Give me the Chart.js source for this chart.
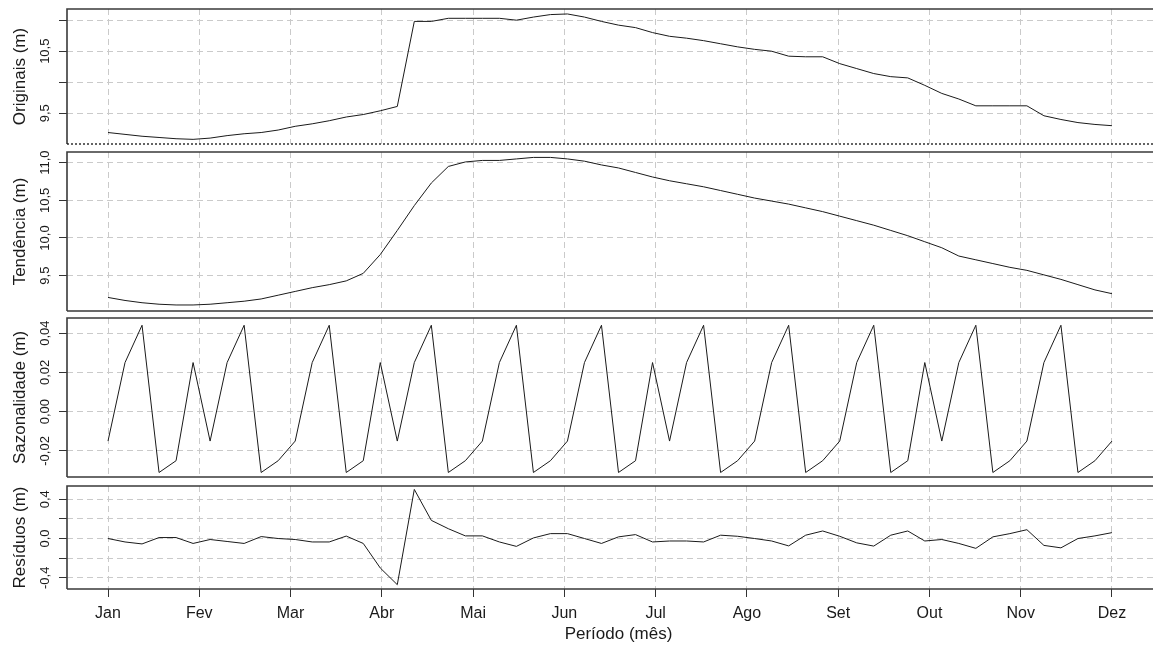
<!DOCTYPE html>
<html>
<head>
<meta charset="utf-8">
<script src="https://cdn.jsdelivr.net/npm/chart.js@4.4.0/dist/chart.umd.min.js"></script>
<style>
html, body { margin: 0; padding: 0; background: #fff; overflow: hidden; width: 1153px; height: 645px; }
canvas { position: absolute; left: 0; }
</style>
</head>
<body>
<canvas id="c1" width="1170" height="143" style="top:5px"></canvas>
<canvas id="c2" width="1170" height="167" style="top:148px"></canvas>
<canvas id="c3" width="1170" height="167" style="top:314px"></canvas>
<canvas id="c4" width="1170" height="163" style="top:482px"></canvas>
<script>
// meses do eixo x (os pontos vão do índice 0 = Jan até 59 = Dez)
const months = ['Jan', 'Fev', 'Mar', 'Abr', 'Mai', 'Jun', 'Jul', 'Ago', 'Set', 'Out', 'Nov', 'Dez'];
const lastIndex = 59;

const originais = [9.19, 9.16, 9.13, 9.11, 9.09, 9.08, 9.10, 9.14, 9.17, 9.19, 9.23, 9.29, 9.33, 9.38, 9.44,
  9.48, 9.54, 9.61, 10.98, 10.98, 11.03, 11.03, 11.03, 11.03, 11.00, 11.05, 11.09, 11.10, 11.05, 10.98,
  10.92, 10.88, 10.80, 10.74, 10.71, 10.67, 10.62, 10.57, 10.53, 10.50, 10.42, 10.41, 10.41, 10.30, 10.22,
  10.14, 10.09, 10.07, 9.95, 9.82, 9.73, 9.62, 9.62, 9.62, 9.62, 9.46, 9.40, 9.35, 9.32, 9.30];

const tendencia = [9.21, 9.17, 9.14, 9.12, 9.11, 9.11, 9.12, 9.14, 9.16, 9.19, 9.24, 9.29, 9.34, 9.38, 9.43,
  9.53, 9.78, 10.10, 10.43, 10.73, 10.95, 11.01, 11.03, 11.03, 11.05, 11.07, 11.07, 11.05, 11.02, 10.97,
  10.93, 10.87, 10.81, 10.76, 10.72, 10.68, 10.63, 10.58, 10.53, 10.49, 10.45, 10.40, 10.35, 10.29, 10.23,
  10.17, 10.10, 10.03, 9.95, 9.87, 9.76, 9.71, 9.66, 9.61, 9.57, 9.51, 9.45, 9.38, 9.31, 9.26];

const sazonalidade = [-0.015, 0.025, 0.044, -0.031, -0.025, 0.025, -0.015, 0.025, 0.044, -0.031, -0.025,
  -0.015, 0.025, 0.044, -0.031, -0.025, 0.025, -0.015, 0.025, 0.044, -0.031, -0.025, -0.015, 0.025, 0.044,
  -0.031, -0.025, -0.015, 0.025, 0.044, -0.031, -0.025, 0.025, -0.015, 0.025, 0.044, -0.031, -0.025, -0.015,
  0.025, 0.044, -0.031, -0.025, -0.015, 0.025, 0.044, -0.031, -0.025, 0.025, -0.015, 0.025, 0.044, -0.031,
  -0.025, -0.015, 0.025, 0.044, -0.031, -0.025, -0.015];

const residuos = [0.0, -0.035, -0.055, 0.01, 0.01, -0.05, -0.01, -0.03, -0.05, 0.02, 0.0, -0.01, -0.035,
  -0.035, 0.025, -0.05, -0.30, -0.47, 0.50, 0.185, 0.10, 0.027, 0.027, -0.035, -0.08, 0.006, 0.05, 0.05,
  0.0, -0.05, 0.017, 0.04, -0.035, -0.025, -0.025, -0.035, 0.034, 0.023, 0.0, -0.025, -0.075, 0.034, 0.077,
  0.023, -0.044, -0.077, 0.034, 0.077, -0.025, -0.01, -0.05, -0.10, 0.017, 0.05, 0.09, -0.07, -0.095, 0.0,
  0.027, 0.06];

// linhas de grade e rótulos do eixo y
const origGrid = [9.5, 10.0, 10.5, 11.0];
const origTickVals = [9.5, 10.5];
const origTickLabels = ['9,5', '10,5'];
const tendGrid = [9.5, 10.0, 10.5, 11.0];
const tendTickVals = [9.5, 10.0, 10.5, 11.0];
const tendTickLabels = ['9,5', '10,0', '10,5', '11,0'];
const sazGrid = [-0.02, 0.0, 0.02, 0.04];
const sazTickVals = [-0.02, 0.0, 0.02, 0.04];
const sazTickLabels = ['-0,02', '0,00', '0,02', '0,04'];
const resGrid = [-0.4, -0.2, 0.0, 0.2, 0.4];
const resTickVals = [-0.4, 0.0, 0.4];
const resTickLabels = ['-0,4', '0,0', '0,4'];

const INK = '#1a1a1a';
const GRID = '#cacaca';
const FONT = "'Liberation Sans', Arial, sans-serif";
Chart.defaults.font.family = FONT;

const boxPlugin = {
  id: 'box',
  afterDatasetsDraw(chart, args, o) {
    const ctx = chart.ctx, a = chart.chartArea;
    ctx.save();
    ctx.strokeStyle = '#3a3a3a';
    ctx.lineWidth = 1.6;
    ctx.beginPath();
    ctx.moveTo(a.left, a.bottom);
    ctx.lineTo(a.left, a.top);
    ctx.lineTo(a.right, a.top);
    ctx.lineTo(a.right, a.bottom);
    if (!o.dotted) ctx.lineTo(a.left, a.bottom);
    ctx.stroke();
    if (o.dotted) {
      ctx.setLineDash([2, 2]);
      ctx.strokeStyle = '#111';
      ctx.lineWidth = 1.3;
      ctx.beginPath();
      ctx.moveTo(a.left, a.bottom);
      ctx.lineTo(a.right, a.bottom);
      ctx.stroke();
      ctx.setLineDash([]);
    }
    // rótulos do eixo y, girados como no R
    const ys = chart.scales.y;
    ctx.fillStyle = INK;
    ctx.font = '13px ' + FONT;
    ctx.textAlign = 'center';
    ctx.textBaseline = 'middle';
    o.vals.forEach((v, i) => {
      ctx.save();
      ctx.translate(45, ys.getPixelForValue(v));
      ctx.rotate(-Math.PI / 2);
      ctx.fillText(o.labels[i], 0, 0);
      ctx.restore();
    });
    ctx.restore();
  }
};

function panel(id, series, yMin, yMax, grid, tickVals, tickLabels, title, last, dotted) {
  return new Chart(document.getElementById(id), {
    type: 'line',
    data: {
      datasets: [{
        data: series.map((v, i) => ({ x: i, y: v })),
        borderColor: INK,
        borderWidth: 1,
        pointRadius: 0,
        tension: 0,
        fill: false
      }]
    },
    options: {
      responsive: false,
      animation: false,
      devicePixelRatio: 1,
      layout: { padding: { top: 4, bottom: last ? 0 : 4, left: 0, right: 0 } },
      plugins: {
        legend: { display: false },
        tooltip: { enabled: false },
        box: { vals: tickVals, labels: tickLabels, dotted: dotted }
      },
      scales: {
        x: {
          type: 'linear',
          min: -2.41,
          max: 62.41,
          afterBuildTicks: s => { s.ticks = months.map((m, i) => ({ value: i * lastIndex / 11 })); },
          afterFit: s => { s.height = last ? 56 : 0; },
          grid: { color: GRID, lineWidth: 1, drawTicks: last, tickLength: 8, tickColor: '#333', tickWidth: 1, tickBorderDash: [] },
          border: { display: false, dash: [6, 4] },
          ticks: {
            display: last, autoSkip: false, maxRotation: 0, padding: 7,
            color: INK, font: { size: 16 },
            callback: (v, i) => months[i]
          },
          title: { display: last, text: 'Período (mês)', color: INK, font: { size: 17 }, padding: 0 }
        },
        y: {
          min: yMin,
          max: yMax,
          afterBuildTicks: s => { s.ticks = grid.map(v => ({ value: v })); },
          afterFit: s => { s.width = 67; },
          grid: { color: GRID, lineWidth: 1, drawTicks: true, tickLength: 8, tickColor: '#333', tickWidth: 1, tickBorderDash: [] },
          border: { display: false, dash: [6, 4] },
          ticks: { display: false },
          title: { display: true, text: title, color: INK, font: { size: 17 }, padding: { top: 10, bottom: 0 } }
        }
      }
    },
    plugins: [boxPlugin]
  });
}

panel('c1', originais, 9.005, 11.18, origGrid, origTickVals, origTickLabels, 'Originais (m)', false, true);
panel('c2', tendencia, 9.03, 11.142, tendGrid, tendTickVals, tendTickLabels, 'Tendência (m)', false, false);
panel('c3', sazonalidade, -0.0333, 0.0477, sazGrid, sazTickVals, sazTickLabels, 'Sazonalidade (m)', false, false);
panel('c4', residuos, -0.514, 0.535, resGrid, resTickVals, resTickLabels, 'Resíduos (m)', true, false);
</script>
</body>
</html>
